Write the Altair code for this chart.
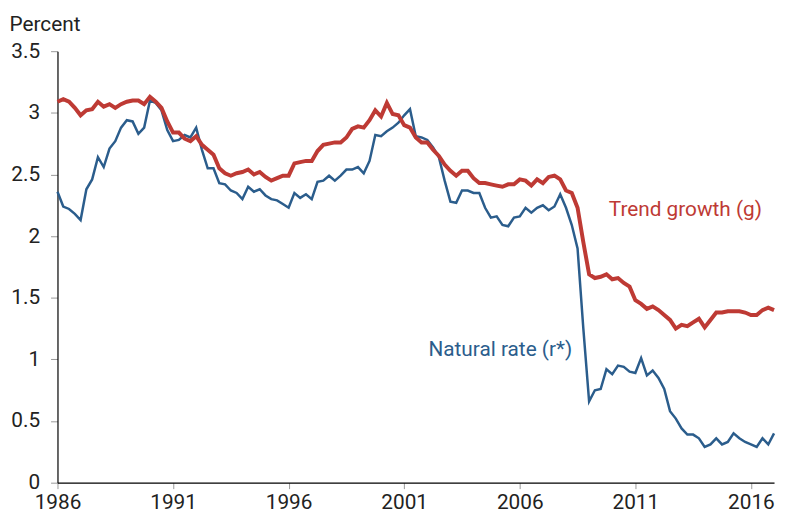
import altair as alt
import pandas as pd

start_year = 1986
trend_growth = [
    3.09, 3.11, 3.09, 3.04,
    2.98, 3.02, 3.03, 3.09,
    3.05, 3.07, 3.04, 3.07,
    3.09, 3.10, 3.10, 3.07,
    3.13, 3.09, 3.04, 2.93,
    2.84, 2.84, 2.79, 2.77,
    2.81, 2.74, 2.70, 2.66,
    2.55, 2.51, 2.49, 2.51,
    2.52, 2.54, 2.50, 2.52,
    2.48, 2.45, 2.47, 2.49,
    2.49, 2.59, 2.60, 2.61,
    2.61, 2.69, 2.74, 2.75,
    2.76, 2.76, 2.80, 2.87,
    2.89, 2.88, 2.94, 3.02,
    2.97, 3.08, 2.99, 2.98,
    2.90, 2.88, 2.80, 2.76,
    2.76, 2.70, 2.65, 2.58,
    2.53, 2.49, 2.53, 2.53,
    2.47, 2.43, 2.43, 2.42,
    2.41, 2.40, 2.42, 2.42,
    2.46, 2.45, 2.41, 2.46,
    2.43, 2.48, 2.49, 2.46,
    2.37, 2.35, 2.23, 1.95,
    1.69, 1.66, 1.67, 1.69,
    1.65, 1.66, 1.62, 1.59,
    1.48, 1.45, 1.41, 1.43,
    1.40, 1.36, 1.32, 1.25,
    1.28, 1.27, 1.30, 1.33,
    1.26, 1.32, 1.38, 1.38,
    1.39, 1.39, 1.39, 1.38,
    1.36, 1.36, 1.40, 1.42,
    1.40,
]
natural_rate = [
    2.36, 2.24, 2.22, 2.18,
    2.13, 2.38, 2.46, 2.64,
    2.56, 2.71, 2.77, 2.88,
    2.94, 2.93, 2.83, 2.88,
    3.10, 3.08, 3.02, 2.86,
    2.77, 2.78, 2.82, 2.80,
    2.88, 2.70, 2.55, 2.55,
    2.43, 2.42, 2.37, 2.35,
    2.30, 2.40, 2.36, 2.38,
    2.33, 2.30, 2.29, 2.26,
    2.23, 2.35, 2.31, 2.34,
    2.30, 2.44, 2.45, 2.49,
    2.45, 2.49, 2.54, 2.54,
    2.56, 2.51, 2.61, 2.82,
    2.81, 2.85, 2.88, 2.92,
    2.98, 3.03, 2.81, 2.80,
    2.78, 2.72, 2.64, 2.45,
    2.28, 2.27, 2.37, 2.37,
    2.35, 2.35, 2.23, 2.15,
    2.16, 2.09, 2.08, 2.15,
    2.16, 2.23, 2.19, 2.23,
    2.25, 2.21, 2.24, 2.34,
    2.23, 2.09, 1.90, 1.25,
    0.66, 0.75, 0.76, 0.92,
    0.88, 0.95, 0.94, 0.90,
    0.89, 1.01, 0.87, 0.91,
    0.85, 0.76, 0.58, 0.52,
    0.44, 0.39, 0.39, 0.36,
    0.29, 0.31, 0.36, 0.31,
    0.33, 0.40, 0.36, 0.33,
    0.31, 0.29, 0.36, 0.31,
    0.40,
]
x_ticks = [1986, 1991, 1996, 2001, 2006, 2011, 2016]
y_ticks = [0, 0.5, 1, 1.5, 2, 2.5, 3, 3.5]
label_text = ["Trend growth (g)", "Natural rate (r*)"]
label_x = [2009.85, 2002.05]
label_y = [2.16, 1.03]
series_names = ["Trend growth (g)", "Natural rate (r*)"]
RED = "#be3a34"
BLUE = "#2b5d8c"
FS = 21

t = [start_year + i / 4 for i in range(len(trend_growth))]
df = pd.DataFrame({
    "t": t * 2,
    "value": trend_growth + natural_rate,
    "series": [series_names[0]] * len(t) + [series_names[1]] * len(t),
})
labels = pd.DataFrame({"t": label_x, "value": label_y, "text": label_text, "series": series_names})

xs = alt.Scale(domain=[1986, 2017], nice=False, zero=False)
ys = alt.Scale(domain=[0, 3.5], nice=False)

x_axis = alt.Axis(values=x_ticks, format="d", title=None, grid=False,
                  tickSize=6, labelPadding=20, labelBaseline="alphabetic",
                  tickColor="#999999",
                  domainColor="#000000", labelFontSize=FS, labelColor="#222222",
                  labelFont="Roboto", labelFlush=False)
y_axis = alt.Axis(values=y_ticks, format="~g", title="Percent", grid=False,
                  tickSize=7, labelPadding=11, tickColor="#999999",
                  domainColor="#000000", labelFontSize=FS, labelColor="#222222",
                  labelFont="Roboto", titleFont="Roboto", titleFontSize=FS,
                  titleFontWeight="normal", titleColor="#222222",
                  titleAngle=0, titleAlign="left", titleBaseline="alphabetic",
                  titleX=-49, titleY=-21)

color = alt.Color("series:N", scale=alt.Scale(domain=series_names, range=[RED, BLUE]), legend=None)

blue = alt.Chart(df).transform_filter(alt.datum.series == series_names[1]).mark_line(
    strokeWidth=2.5, color=BLUE
).encode(
    x=alt.X("t:Q", scale=xs, axis=x_axis),
    y=alt.Y("value:Q", scale=ys, axis=y_axis),
)
red = alt.Chart(df).transform_filter(alt.datum.series == series_names[0]).mark_line(
    strokeWidth=4, color=RED
).encode(
    x=alt.X("t:Q", scale=xs),
    y=alt.Y("value:Q", scale=ys),
)
text = alt.Chart(labels).mark_text(
    align="left", baseline="alphabetic", font="Roboto", fontSize=FS
).encode(
    x=alt.X("t:Q", scale=xs),
    y=alt.Y("value:Q", scale=ys),
    text="text:N",
    color=color,
)

chart = alt.layer(blue, red, text).properties(
    width=724, height=436,
    autosize=alt.AutoSizeParams(type="none"),
    padding={"left": 50, "top": 41, "right": 3, "bottom": 28},
).configure_view(stroke=None).configure_axis(domainWidth=1.2)

chart.save("out.html", embed_options={"renderer": "svg", "actions": False})
